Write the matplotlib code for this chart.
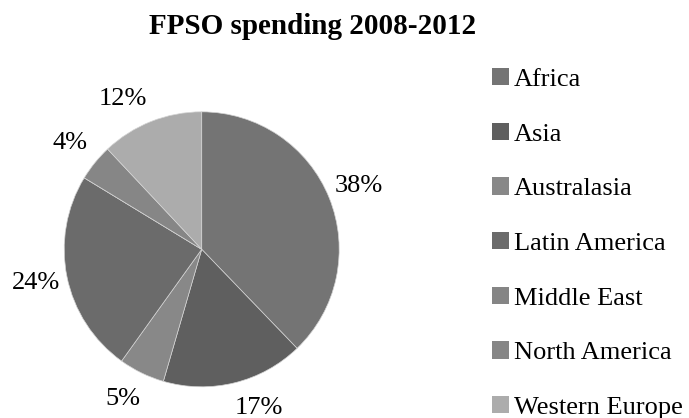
import numpy as np
import matplotlib
matplotlib.use("Agg")
import matplotlib.pyplot as plt
from matplotlib.patches import Patch

# FPSO spending share by region, 2008-2012 (percent)
regions = ["Africa", "Asia", "Australasia", "Latin America",
           "Middle East", "North America", "Western Europe"]
share = [37.8, 16.7, 5.4, 23.8, 0.0, 4.3, 12.0]
colors = ["#747474", "#5f5f5f", "#888888", "#6b6b6b",
          "#858585", "#868686", "#acacac"]

# small angle shifts (deg) for labels that would sit on the edge
label_shift = [0, 6, -2, 0, 0, 0, 6]

plt.rcParams["font.family"] = ["Liberation Serif", "DejaVu Serif"]

fig = plt.figure(figsize=(6.89, 4.18), dpi=100)
ax = fig.add_axes([0.0932, 0.0746, 0.3991, 0.6579])


def pct_label(p):
    # zero slices get no label
    return "" if p < 0.5 else "%.0f%%" % p


wedges, _, pct_texts = ax.pie(share, colors=colors, startangle=90,
                              counterclock=False, autopct=pct_label,
                              pctdistance=1.24, radius=1.0,
                              wedgeprops=dict(edgecolor="#d4d4d4", linewidth=0.5),
                              textprops=dict(fontsize=19, color="black"))

# move the labels round a little
for w, t, d in zip(wedges, pct_texts, label_shift):
    ang = np.deg2rad((w.theta1 + w.theta2) / 2 + d)
    t.set_position((1.23 * np.cos(ang), 1.23 * np.sin(ang)))

ax.set_xlim(-1, 1)
ax.set_ylim(-1, 1)
ax.set_aspect("equal")

fig.text(312.5 / 689, 1 - 26 / 418, "FPSO spending 2008-2012",
         ha="center", va="center", fontsize=21, fontweight="bold")

handles = [Patch(facecolor=c, edgecolor="none") for c in colors]
fig.legend(handles, regions, loc="upper left",
           bbox_to_anchor=(492 / 689, 1 - 68 / 418),
           frameon=False, fontsize=19, borderpad=0, borderaxespad=0,
           handlelength=0.64, handleheight=0.64, handletextpad=0.2,
           labelspacing=1.2)

fig.savefig("out.png", dpi=100)
